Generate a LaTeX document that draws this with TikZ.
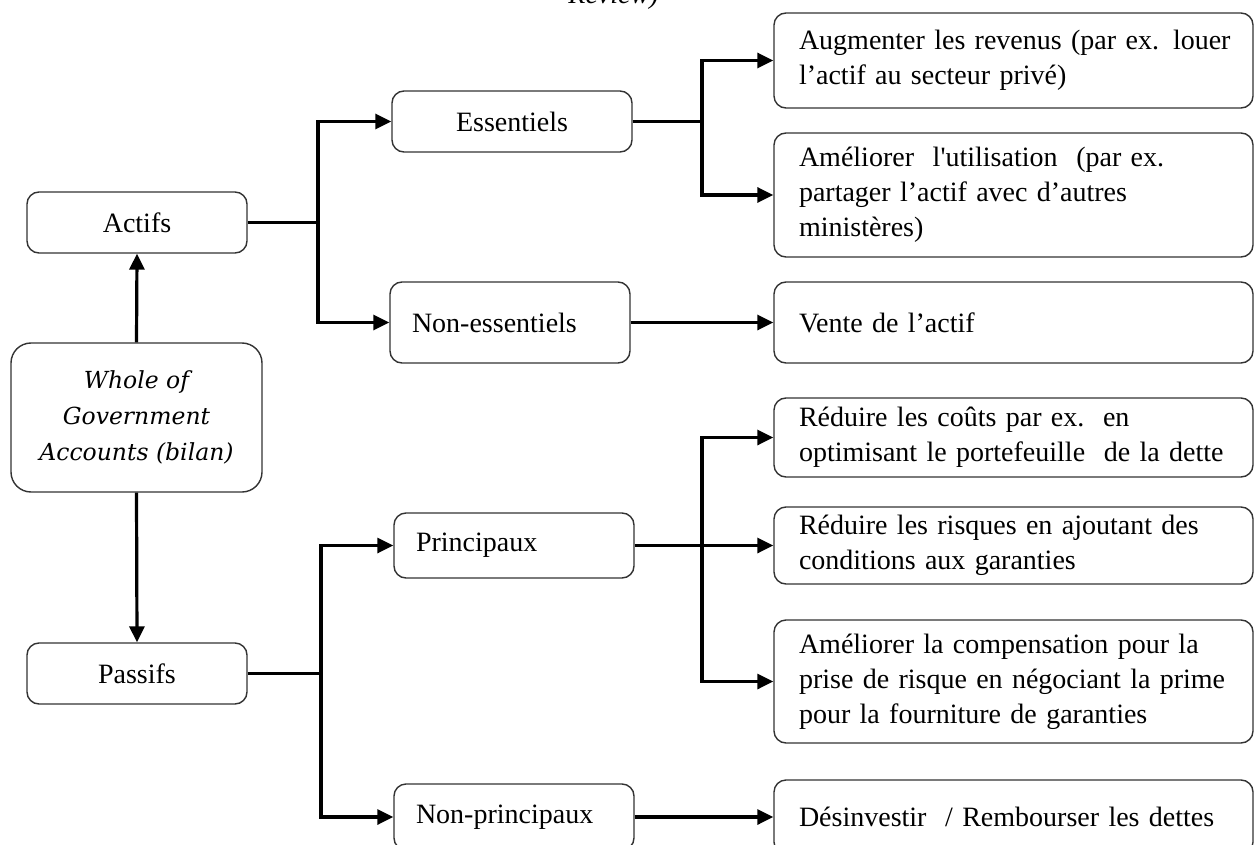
\documentclass[tikz,border=0pt]{standalone}
\usepackage{fontspec}
\newfontfamily\tnr{Liberation Serif}
\newfontfamily\wgfont{DejaVu Serif}
\usetikzlibrary{arrows.meta}
\tikzset{
  box/.style={draw=black!80, line width=1.4pt, rounded corners=12pt, fill=white,
    font=\tnr\fontsize{28}{35}\selectfont, inner sep=0pt},
  cbox/.style={box, align=center},
  lbox/.style={box, text width=196pt, inner xsep=22pt, align=left},
  rbox/.style={box, text width=454pt, inner xsep=12.5pt, align=left,
    execute at begin node={\leftskip=12.5pt\relax}},
  conn/.style={line width=3.2pt},
  arr/.style={conn, -{Triangle[length=16pt,width=15pt]}}
}
\begin{document}
\begin{tikzpicture}[x=1pt,y=-1pt]
\fill[white] (0,0) rectangle (1255,845);
\useasboundingbox (0,0) rectangle (1255,845);

% caption remnant
\node[font=\tnr\itshape\fontsize{28}{36}\selectfont, anchor=base, inner sep=0pt] (cap) at (613.5,4) {Review)};

% left column
\node[cbox, minimum width=220pt, minimum height=61pt] (actifs) at (137,222.5) {Actifs};
\node[cbox, minimum width=251pt, minimum height=149pt, rounded corners=20pt,
      font=\wgfont\itshape\fontsize{23.5}{36}\selectfont] (whole) at (136.5,417.5)
      {Whole of\\Government\\Accounts (bilan)};
\node[cbox, minimum width=220pt, minimum height=61pt] (passifs) at (137,673.5) {Passifs};

% middle column
\node[cbox, minimum width=240pt, minimum height=61pt] (ess) at (512,121.5) {Essentiels};
\node[lbox, minimum height=81pt] (noness) at (510,322.5) {Non-essentiels};
\node[lbox, minimum height=65pt] (princ) at (514,545.5) {Principaux};
\node[lbox, minimum height=66pt] (nonprinc) at (514,817) {Non-principaux};

% right column
\node[rbox, minimum height=95pt] (aug) at (1013.5,60.5)
  {Augmenter les revenus (par ex. louer\\l’actif au secteur privé)};
\node[rbox, minimum height=124pt] (amel) at (1013.5,195)
  {Améliorer\ \ l'utilisation\ \ (par ex.\\partager l’actif avec d’autres\\ministères)};
\node[rbox, minimum height=81pt] (vente) at (1013.5,322.5) {Vente de l’actif};
\node[rbox, minimum height=79pt] (redc) at (1013.5,437.5)
  {Réduire les coûts par ex.\ \ en\\optimisant le portefeuille\ \ de la dette};
\node[rbox, minimum height=77pt] (redr) at (1013.5,545.5)
  {\makebox[441pt][s]{Réduire les risques en ajoutant des}\\conditions aux garanties};
\node[rbox, minimum height=123pt] (amelc) at (1013.5,681.5)
  {\makebox[441pt][s]{Améliorer la compensation pour la}\\\makebox[441pt][s]{prise de risque en négociant la prime}\\pour la fourniture de garanties};
\node[rbox, minimum height=74pt] (desinv) at (1013.5,817)
  {Désinvestir\ \ / Rembourser les dettes};

% junctions
\coordinate (ja) at (318,222.5);
\coordinate (jp) at (321,673.5);
\coordinate (je) at (702,121.5);
\coordinate (jr) at (702,545.5);

% connectors
\draw[arr] (whole.north) -- (actifs.south);
\draw[arr] (whole.south) -- (passifs.north);

\draw[conn] (actifs.east) -- (ja);
\draw[arr] (ja) |- (ess.west);
\draw[arr] (ja) |- (noness.west);

\draw[conn] (passifs.east) -- (jp);
\draw[arr] (jp) |- (princ.west);
\draw[arr] (jp) |- (nonprinc.west);

\draw[conn] (ess.east) -- (je);
\draw[arr] (je) |- (aug.west);
\draw[arr] (je) |- (amel.west);

\draw[arr] (noness.east) -- (vente.west);

\draw[arr] (princ.east) -- (redr.west);
\draw[arr] (jr) |- (redc.west);
\draw[arr] (jr) |- (amelc.west);

\draw[arr] (nonprinc.east) -- (desinv.west);
\end{tikzpicture}
\end{document}
